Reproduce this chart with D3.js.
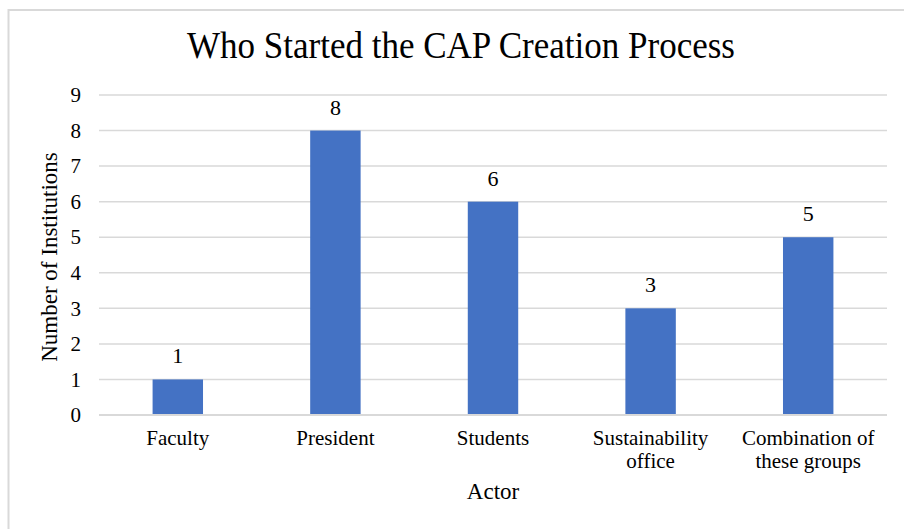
<!DOCTYPE html>
<html>
<head>
<meta charset="utf-8">
<script src="https://cdn.jsdelivr.net/npm/d3@7"></script>
</head>
<body style="margin:0;background:#fff">
<div id="chart"></div>
<script>
// chart data
var actors = ["Faculty", "President", "Students", "Sustainability office", "Combination of these groups"];
var actorLines = [["Faculty"], ["President"], ["Students"], ["Sustainability", "office"], ["Combination of", "these groups"]];
var counts = [1, 8, 6, 3, 5];
var yTicks = [0, 1, 2, 3, 4, 5, 6, 7, 8, 9];

var W = 904, H = 529;
var plot = { left: 99, right: 887, top: 95, bottom: 415 };
var FONT = "'Liberation Serif', 'Times New Roman', Times, serif";

var svg = d3.select('#chart').append('svg')
    .attr('width', W)
    .attr('height', H)
    .style('font-family', FONT);

// outer frame
svg.append('rect')
    .attr('x', 8.5).attr('y', 10)
    .attr('width', 920).attr('height', 540)
    .attr('fill', '#fff')
    .attr('stroke', '#d9d9d9')
    .attr('stroke-width', 2);

var x = d3.scaleBand()
    .domain(actors)
    .range([plot.left, plot.right])
    .paddingInner(0.68)
    .paddingOuter(0.34);

var y = d3.scaleLinear()
    .domain([0, 9])
    .range([plot.bottom, plot.top]);

// gridlines
svg.append('g')
    .selectAll('line')
    .data(yTicks)
    .join('line')
    .attr('x1', plot.left).attr('x2', plot.right)
    .attr('y1', d => y(d)).attr('y2', d => y(d))
    .attr('stroke', '#d9d9d9')
    .attr('stroke-width', 1.5);

// y axis labels
var yAxis = svg.append('g')
    .attr('transform', 'translate(' + (plot.left - 18) + ',0)')
    .call(d3.axisLeft(y).tickValues(yTicks).tickSize(0).tickPadding(0));
yAxis.attr('font-family', null).attr('font-size', null);
yAxis.select('.domain').remove();
yAxis.selectAll('text')
    .style('font-family', FONT)
    .style('font-size', '21px')
    .attr('fill', '#000');

// bars
svg.append('g')
    .selectAll('rect')
    .data(actors)
    .join('rect')
    .attr('x', d => x(d))
    .attr('width', x.bandwidth())
    .attr('y', (d, i) => y(counts[i]))
    .attr('height', (d, i) => y(0) - y(counts[i]))
    .attr('fill', '#4472c4');

// value labels
svg.append('g')
    .selectAll('text')
    .data(actors)
    .join('text')
    .attr('x', d => x(d) + x.bandwidth() / 2)
    .attr('y', (d, i) => y(counts[i]) - 16)
    .attr('text-anchor', 'middle')
    .style('font-family', FONT)
    .style('font-size', '22px')
    .text((d, i) => counts[i]);

// x axis baseline
svg.append('line')
    .attr('x1', plot.left).attr('x2', plot.right)
    .attr('y1', y(0)).attr('y2', y(0))
    .attr('stroke', '#d9d9d9')
    .attr('stroke-width', 2);

// category labels, one text per line
var xl = svg.append('g');
actors.forEach(function(d, i) {
    actorLines[i].forEach(function(line, j) {
        xl.append('text')
            .attr('x', x(d) + x.bandwidth() / 2)
            .attr('y', 445 + j * 23)
            .attr('text-anchor', 'middle')
            .style('font-family', FONT)
            .style('font-size', '21px')
            .text(line);
    });
});

// axis titles
svg.append('text')
    .attr('x', (plot.left + plot.right) / 2)
    .attr('y', 499)
    .attr('text-anchor', 'middle')
    .style('font-family', FONT)
    .style('font-size', '23px')
    .text('Actor');

svg.append('text')
    .attr('transform', 'translate(57,257) rotate(-90)')
    .attr('text-anchor', 'middle')
    .style('font-family', FONT)
    .style('font-size', '23px')
    .text('Number of Institutions');

// title
svg.append('text')
    .attr('x', 461)
    .attr('y', 58)
    .attr('text-anchor', 'middle')
    .attr('textLength', 548)
    .attr('lengthAdjust', 'spacingAndGlyphs')
    .style('font-family', FONT)
    .style('font-size', '37px')
    .text('Who Started the CAP Creation Process');
</script>
</body>
</html>
